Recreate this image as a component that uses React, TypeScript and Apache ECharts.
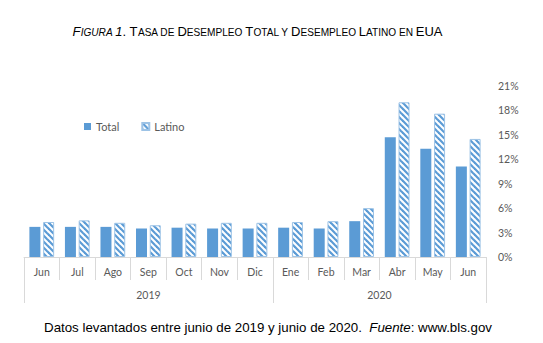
import React, { useEffect, useRef } from 'react';
import * as echarts from 'echarts';

const months = ['Jun', 'Jul', 'Ago', 'Sep', 'Oct', 'Nov', 'Dic', 'Ene', 'Feb', 'Mar', 'Abr', 'May', 'Jun'];
const years = ['2019', '2020'];
const yearSpans = [7, 6];
const totalRate = [3.7, 3.7, 3.7, 3.5, 3.6, 3.5, 3.5, 3.6, 3.5, 4.4, 14.7, 13.3, 11.1];
const latinoRate = [4.3, 4.5, 4.2, 3.9, 4.1, 4.2, 4.2, 4.3, 4.4, 6.0, 19.0, 17.6, 14.5];
const yMax = 21;
const yStep = 3;

const titleItalic = 'Figura 1';
const titleRest = '. Tasa de Desempleo Total y Desempleo Latino en EUA';
const footerMain = 'Datos levantados entre junio de 2019 y junio de 2020.  ';
const footerItalic = 'Fuente';
const footerEnd = ': www.bls.gov';

function smallCaps(str: string, italic: boolean): string {
  let out = '';
  let cur = '';
  let curType: string | null = null;
  const flush = () => {
    if (cur && curType) out += '{' + curType + (italic ? 'i' : '') + '|' + cur + '}';
    cur = '';
  };
  for (const ch of str) {
    let type: string;
    if (ch === ' ') type = curType || 'b';
    else if (/[a-záéíóúñ]/.test(ch)) type = 's';
    else type = 'b';
    if (type !== curType) {
      flush();
      curType = type;
    }
    cur += ch.toUpperCase();
  }
  flush();
  return out;
}

function makeStripeTile(): string {
  const n = 6;
  const c = document.createElement('canvas');
  c.width = n;
  c.height = n;
  const ctx = c.getContext('2d')!;
  ctx.fillStyle = '#ffffff';
  ctx.fillRect(0, 0, n, n);
  ctx.strokeStyle = '#5b9bd5';
  ctx.lineWidth = 2.2;
  for (const off of [-n, 0, n]) {
    ctx.beginPath();
    ctx.moveTo(off - 1, -1);
    ctx.lineTo(off + n + 1, n + 1);
    ctx.stroke();
  }
  return c.toDataURL();
}

export default function App() {
  const ref = useRef<HTMLDivElement>(null);
  useEffect(() => {
    if (!ref.current) return;
    const chart = echarts.init(ref.current, null, { renderer: 'svg' });
    const boundaries: number[] = [0];
    const yearCenters: number[] = [];
    let acc = 0;
    yearSpans.forEach((s) => {
      yearCenters.push(acc + s / 2);
      acc += s;
      boundaries.push(acc);
    });
    const big = 13;
    const small = 10.1;
    const tf = 'Liberation Sans, Arial, sans-serif';
    const rich: any = {
      b: { fontSize: big, fontFamily: tf, color: '#000', verticalAlign: 'bottom', lineHeight: 15 },
      s: { fontSize: small, fontFamily: tf, color: '#000', verticalAlign: 'bottom', lineHeight: 15 },
      bi: { fontSize: big, fontFamily: tf, color: '#000', fontStyle: 'italic', verticalAlign: 'bottom', lineHeight: 15 },
      si: { fontSize: small, fontFamily: tf, color: '#000', fontStyle: 'italic', verticalAlign: 'bottom', lineHeight: 15 },
    };
    const stripe: any = { image: makeStripeTile(), repeat: 'repeat', imageWidth: 6, imageHeight: 6 };
    const axisFont = 'Lato, sans-serif';
    chart.setOption({
      animation: false,
      grid: { left: 24, right: 57, top: 86, bottom: 86, containLabel: false },
      legend: {
        data: ['Total', 'Latino'],
        left: 84,
        top: 121,
        padding: 0,
        itemWidth: 7,
        itemHeight: 7,
        itemGap: 22,
        icon: 'rect',
        textStyle: { color: '#595959', fontSize: 11, fontFamily: axisFont },
      },
      xAxis: [
        {
          type: 'category',
          data: months,
          position: 'bottom',
          axisLine: { show: true, lineStyle: { color: '#d9d9d9', width: 1 } },
          axisTick: { show: true, interval: 0, length: 23, lineStyle: { color: '#d9d9d9', width: 1 } },
          axisLabel: { interval: 0, margin: 9, color: '#595959', fontSize: 10.5, fontFamily: axisFont },
          splitLine: { show: false },
        },
        {
          type: 'value',
          position: 'bottom',
          min: 0,
          max: months.length,
          axisLine: { show: false },
          splitLine: { show: false },
          axisTick: {
            show: true,
            customValues: boundaries,
            length: 46,
            lineStyle: { color: '#d9d9d9', width: 1 },
          },
          axisLabel: {
            customValues: yearCenters,
            margin: 32,
            color: '#595959',
            fontSize: 10.5,
            fontFamily: axisFont,
            formatter: (v: number) => {
              const i = yearCenters.findIndex((c) => Math.abs(c - v) < 1e-6);
              return i >= 0 ? years[i] : '';
            },
          },
        },
      ],
      yAxis: {
        type: 'value',
        position: 'right',
        min: 0,
        max: yMax,
        interval: yStep,
        axisLine: { show: false },
        axisTick: { show: false },
        splitLine: { show: false },
        axisLabel: { formatter: '{value}%', margin: 12, color: '#595959', fontSize: 10.5, fontFamily: axisFont },
      },
      series: [
        {
          name: 'Total',
          type: 'bar',
          data: totalRate,
          barWidth: 11,
          barGap: '25%',
          itemStyle: { color: '#5b9bd5' },
        },
        {
          name: 'Latino',
          type: 'bar',
          data: latinoRate,
          barWidth: 11,
          barGap: '25%',
          itemStyle: {
            color: stripe,
            borderColor: '#9dc3e6',
            borderWidth: 1,
          },
        },
      ],
      graphic: [
        {
          type: 'text',
          x: 257.5,
          y: 30,
          style: {
            text: smallCaps(titleItalic, true) + smallCaps(titleRest, false),
            rich,
            align: 'center',
            verticalAlign: 'middle',
          },
        },
        {
          type: 'text',
          x: 268,
          y: 327,
          style: {
            text: '{n|' + footerMain + '}{i|' + footerItalic + '}{n|' + footerEnd + '}',
            rich: {
              n: { fontSize: 13.3, fontFamily: tf, color: '#000' },
              i: { fontSize: 13.3, fontFamily: tf, color: '#000', fontStyle: 'italic' },
            },
            align: 'center',
            verticalAlign: 'middle',
          },
        },
      ],
    });
    return () => chart.dispose();
  }, []);
  return (
    <div
      ref={ref}
      style={{ position: 'fixed', left: 0, top: 0, width: 543, height: 343, background: '#fff' }}
    />
  );
}
